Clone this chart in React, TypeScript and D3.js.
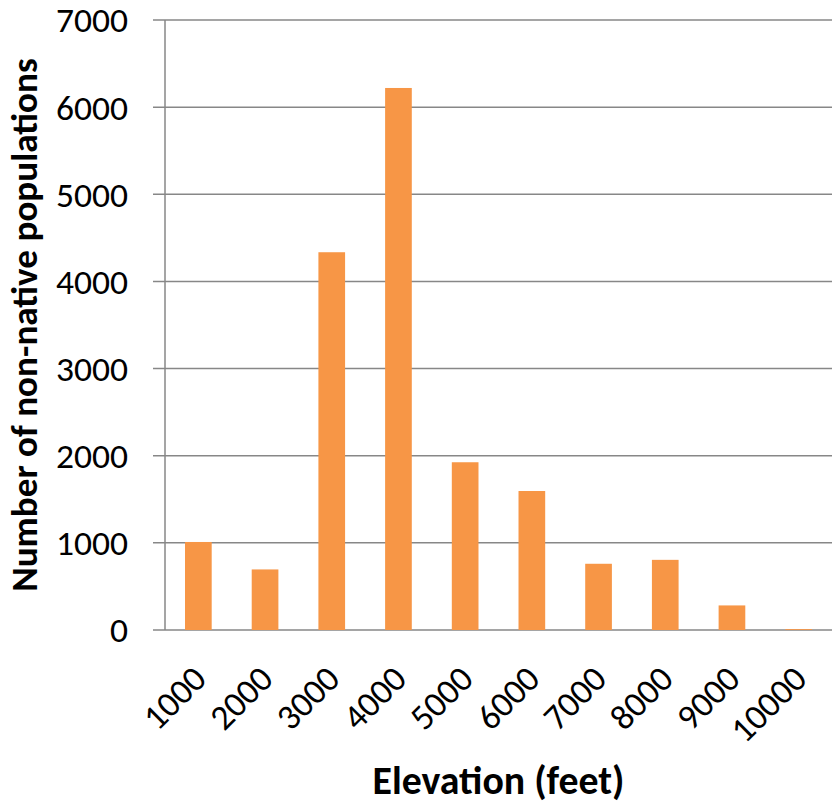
import React, { useEffect, useRef } from 'react';
import * as d3 from 'd3';

// elevation bins (feet) and counts
const elevations = ['1000', '2000', '3000', '4000', '5000', '6000', '7000', '8000', '9000', '10000'];
const populations = [1010, 695, 4335, 6220, 1925, 1595, 760, 805, 282, 10];
const yTicks = [0, 1000, 2000, 3000, 4000, 5000, 6000, 7000];

const App = () => {
  const ref = useRef<SVGSVGElement | null>(null);

  useEffect(() => {
    const svg = d3.select(ref.current);
    svg.selectAll('*').remove();

    const width = 832;
    const height = 803;
    const margin = { top: 20, right: 0, bottom: 173, left: 165 };
    const font = 'Carlito, Calibri, Lato, "Open Sans", sans-serif';

    // scale a text's font size so it spans the given width
    const fitText = (sel: any, target: number) => {
      const node = sel.node() as SVGTextElement;
      const len = node.getComputedTextLength();
      const size = parseFloat(sel.style('font-size'));
      if (len > 0) sel.style('font-size', `${(size * target) / len}px`);
      return sel;
    };

    const x = d3
      .scaleBand()
      .domain(elevations)
      .range([margin.left, width - margin.right])
      .paddingInner(0.6)
      .paddingOuter(0.3);

    const y = d3
      .scaleLinear()
      .domain([0, 7000])
      .range([height - margin.bottom, margin.top]);

    // gridlines
    svg
      .append('g')
      .selectAll('line')
      .data(yTicks)
      .enter()
      .append('line')
      .attr('x1', margin.left - 12)
      .attr('x2', width)
      .attr('y1', (d) => y(d))
      .attr('y2', (d) => y(d))
      .attr('stroke', '#878787')
      .attr('stroke-width', 1.5);

    // y axis line
    svg
      .append('line')
      .attr('x1', margin.left)
      .attr('x2', margin.left)
      .attr('y1', y(7000))
      .attr('y2', y(0))
      .attr('stroke', '#878787')
      .attr('stroke-width', 1.5);

    // bars
    svg
      .append('g')
      .selectAll('rect')
      .data(populations)
      .enter()
      .append('rect')
      .attr('x', (d, i) => x(elevations[i]) as number)
      .attr('width', x.bandwidth())
      .attr('y', (d) => y(d))
      .attr('height', (d) => y(0) - y(d))
      .attr('fill', '#F79646');

    // work out the tick font size from the widest y label
    const probe = svg
      .append('text')
      .style('font-family', font)
      .style('font-size', '30px')
      .text('7000');
    fitText(probe, 72);
    const tickSize = probe.style('font-size');
    probe.remove();

    // y tick labels
    svg
      .append('g')
      .selectAll('text')
      .data(yTicks)
      .enter()
      .append('text')
      .attr('x', 128)
      .attr('y', (d) => y(d))
      .attr('dy', '0.35em')
      .attr('text-anchor', 'end')
      .style('font-family', font)
      .style('font-size', tickSize)
      .attr('fill', '#000')
      .text((d) => d);

    // x tick labels, rotated
    svg
      .append('g')
      .selectAll('text')
      .data(elevations)
      .enter()
      .append('text')
      .attr('transform', (d) => {
        const cx = (x(d) as number) + x.bandwidth() / 2 + 10;
        return `translate(${cx},${y(0) + 51}) rotate(-45)`;
      })
      .attr('text-anchor', 'end')
      .style('font-family', font)
      .style('font-size', tickSize)
      .attr('fill', '#000')
      .text((d) => d);

    // axis titles
    const xTitle = svg
      .append('text')
      .attr('x', (margin.left + width) / 2)
      .attr('y', 794)
      .attr('text-anchor', 'middle')
      .style('font-family', font)
      .style('font-size', '30px')
      .style('font-weight', 'bold')
      .text('Elevation (feet)');
    fitText(xTitle, 252);

    const yTitle = svg
      .append('text')
      .attr('transform', `translate(37,${(y(0) + y(7000)) / 2}) rotate(-90)`)
      .attr('text-anchor', 'middle')
      .style('font-family', font)
      .style('font-size', '30px')
      .style('font-weight', 'bold')
      .text('Number of non-native populations');
    fitText(yTitle, 534);
  }, []);

  return <svg ref={ref} width={832} height={803} style={{ position: 'absolute', left: 0, top: 0 }} />;
};

export default App;
